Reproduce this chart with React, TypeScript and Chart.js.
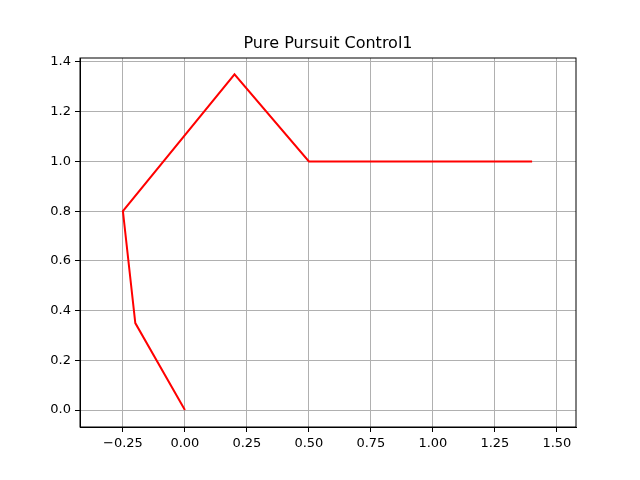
import { useEffect, useRef } from 'react'
import { Chart, registerables } from 'chart.js'

Chart.register(...registerables)

const xs = [0, -0.2, -0.25, 0.2, 0.5, 1.4]
const ys = [0, 0.35, 0.8, 1.35, 1.0, 1.0]
const xTicks = [-0.25, 0, 0.25, 0.5, 0.75, 1.0, 1.25, 1.5]
const yTicks = [0, 0.2, 0.4, 0.6, 0.8, 1.0, 1.2, 1.4]
const TITLE = 'Pure Pursuit Control1'
const FONT = 'DejaVu Sans'

const fmt = (v: number, d: number) => v.toFixed(d).replace('-', '\u2212')

const titlePlugin = {
  id: 'mplTitle',
  afterDraw(chart: Chart) {
    const { ctx, chartArea } = chart
    ctx.save()
    ctx.font = `16px "${FONT}"`
    ctx.fillStyle = '#000'
    ctx.textAlign = 'center'
    ctx.textBaseline = 'bottom'
    ctx.fillText(TITLE, (chartArea.left + chartArea.right) / 2, chartArea.top - 6)
    ctx.restore()
  },
}

export default function App() {
  const ref = useRef<HTMLCanvasElement>(null)

  useEffect(() => {
    if (!ref.current) return
    document.body.style.margin = '0'
    const chart = new Chart(ref.current, {
      type: 'scatter',
      data: {
        datasets: [
          {
            data: xs.map((x, i) => ({ x, y: ys[i] })),
            showLine: true,
            borderColor: '#ff0000',
            borderWidth: 2,
            pointRadius: 0,
            tension: 0,
          },
        ],
      },
      options: {
        animation: false,
        responsive: false,
        layout: { padding: { left: 0, right: 64, top: 58, bottom: 0 } },
        plugins: { legend: { display: false }, tooltip: { enabled: false } },
        scales: {
          x: {
            type: 'linear',
            min: -0.423,
            max: 1.577,
            afterBuildTicks: (s: any) => { s.ticks = xTicks.map(value => ({ value })) },
            afterFit: (s: any) => { s.height = 53 },
            ticks: { callback: (v: any) => fmt(Number(v), 2), color: '#000', font: { family: FONT, size: 13 }, maxRotation: 0, padding: 4 },
            grid: { color: '#b0b0b0', tickColor: '#000', tickLength: 5, lineWidth: 1 },
            border: { color: '#000', width: 1 },
          },
          y: {
            type: 'linear',
            min: -0.068,
            max: 1.416,
            afterBuildTicks: (s: any) => { s.ticks = yTicks.map(value => ({ value })) },
            afterFit: (s: any) => { s.width = 80 },
            ticks: { callback: (v: any) => fmt(Number(v), 1), color: '#000', font: { family: FONT, size: 13 }, padding: 4 },
            grid: { color: '#b0b0b0', tickColor: '#000', tickLength: 5, lineWidth: 1 },
            border: { color: '#000', width: 1 },
          },
        },
      },
      plugins: [
        titlePlugin,
        {
          id: 'frame',
          afterDraw(c: Chart) {
            const { ctx, chartArea: a } = c
            ctx.save()
            ctx.strokeStyle = '#000'
            ctx.lineWidth = 1
            ctx.strokeRect(a.left, a.top, a.right - a.left, a.bottom - a.top)
            ctx.restore()
          },
        },
      ],
    })
    return () => chart.destroy()
  }, [])

  return <canvas ref={ref} width={640} height={480} style={{ display: 'block', background: '#fff' }} />
}
